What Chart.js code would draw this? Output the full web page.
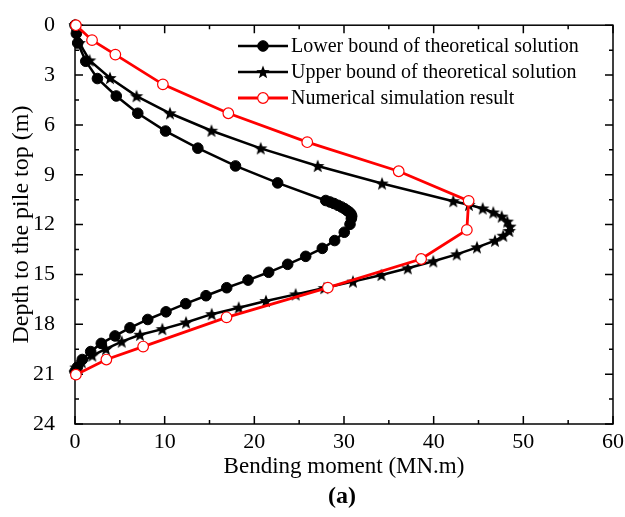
<!DOCTYPE html>
<html>
<head>
<meta charset="utf-8">
<script src="https://cdn.jsdelivr.net/npm/chart.js@4.4.0/dist/chart.umd.min.js"></script>
<style>
  html, body { margin:0; padding:0; background:#fff; }
  #wrap { width:625px; height:517px; position:relative; }
</style>
</head>
<body>
<div id="wrap"><canvas id="c"></canvas></div>
<script>
// ====== data: bending moment (MN.m) vs depth (m) ======
const lowerMoment = [0, 0.15, 0.3, 1.2, 2.5, 4.6, 7.0, 10.1, 13.7, 17.9, 22.6,
  27.96, 28.44, 28.88, 29.33, 29.72, 30.06, 30.34, 30.59, 30.78, 30.86, 30.82,
  30.67, 30.03, 28.96, 27.58, 25.73, 23.72, 21.6, 19.3, 16.92, 14.61, 12.35,
  10.15, 8.11, 6.13, 4.46, 2.93, 1.75, 0.81, 0.26, 0];
const lowerDepth = [0, 0.5, 1.07, 2.17, 3.21, 4.26, 5.30, 6.37, 7.40, 8.47, 9.49,
  10.55, 10.64, 10.73, 10.84, 10.94, 11.04, 11.15, 11.25, 11.36, 11.49, 11.64,
  11.98, 12.46, 12.96, 13.43, 13.91, 14.39, 14.87, 15.34, 15.80, 16.28, 16.76,
  17.25, 17.71, 18.21, 18.70, 19.15, 19.64, 20.12, 20.58, 20.84];

const upperMoment = [0, 0.48, 1.63, 3.9, 6.86, 10.59, 15.22, 20.71, 27.07, 34.24,
  42.19, 43.94, 45.47, 46.65, 47.59, 48.21, 48.51, 48.43, 47.76, 46.84, 44.83,
  42.57, 39.96, 37.11, 34.18, 31.0, 27.8, 24.61, 21.3, 18.26, 15.25, 12.38,
  9.74, 7.25, 5.21, 3.46, 1.93, 0.75, 0.1, 0];
const upperDepth = [0, 1.07, 2.12, 3.18, 4.27, 5.30, 6.35, 7.41, 8.47, 9.53,
  10.59, 10.81, 11.03, 11.27, 11.52, 11.82, 12.12, 12.38, 12.67, 12.97, 13.37,
  13.79, 14.21, 14.63, 15.03, 15.43, 15.82, 16.20, 16.60, 17.00, 17.39, 17.89,
  18.29, 18.63, 19.04, 19.48, 19.88, 20.28, 20.60, 20.90];

const numMoment = [0.1, 1.9, 4.5, 9.8, 17.1, 25.9, 36.1, 43.9, 43.7, 38.6, 28.2, 16.9, 7.6, 3.5, 0.1];
const numDepth  = [0, 0.90, 1.77, 3.56, 5.30, 7.04, 8.79, 10.57, 12.32, 14.07, 15.79, 17.58, 19.34, 20.12, 21.03];

const seriesNames = [
  "Lower bound of theoretical solution",
  "Upper bound of theoretical solution",
  "Numerical simulation result"
];
const xTicks = [0, 10, 20, 30, 40, 50, 60];
const xMinor = [5, 15, 25, 35, 45, 55];
const yTicks = [0, 3, 6, 9, 12, 15, 18, 21, 24];
const yMinor = [1.5, 4.5, 7.5, 10.5, 13.5, 16.5, 19.5, 22.5];
const xTitle = "Bending moment (MN.m)";
const yTitle = "Depth to the pile top (m)";
const panelLabel = "(a)";

// ====== helpers ======
const FONT = "'Liberation Serif', 'Times New Roman', serif";
const pts = (xs, ys) => xs.map((x, i) => ({ x, y: ys[i] }));

function starImg(r) {
  const c = document.createElement("canvas");
  const s = Math.ceil(r * 2 + 2);
  c.width = s; c.height = s;
  const g = c.getContext("2d");
  g.translate(s / 2, s / 2 + 0.5);
  g.beginPath();
  for (let i = 0; i < 10; i++) {
    const rad = i % 2 ? r * 0.42 : r;
    const a = -Math.PI / 2 + i * Math.PI / 5;
    g.lineTo(rad * Math.cos(a), rad * Math.sin(a));
  }
  g.closePath();
  g.fillStyle = "#000";
  g.fill();
  return c;
}
const STAR = starImg(7);

// frame + inward ticks on all four sides, titles and legend
const framePlugin = {
  id: "frame",
  beforeDatasetsDraw(chart) {
    const { ctx, chartArea: a, scales: { x, y } } = chart;
    ctx.save();
    ctx.strokeStyle = "#000";
    ctx.lineWidth = 1.5;
    ctx.strokeRect(a.left, a.top, a.right - a.left, a.bottom - a.top);
    const tickX = (vals, len) => {
      vals.forEach(v => {
        const px = x.getPixelForValue(v);
        ctx.beginPath();
        ctx.moveTo(px, a.bottom); ctx.lineTo(px, a.bottom - len);
        ctx.moveTo(px, a.top); ctx.lineTo(px, a.top + len);
        ctx.stroke();
      });
    };
    const tickY = (vals, len) => {
      vals.forEach(v => {
        const py = y.getPixelForValue(v);
        ctx.beginPath();
        ctx.moveTo(a.left, py); ctx.lineTo(a.left + len, py);
        ctx.moveTo(a.right, py); ctx.lineTo(a.right - len, py);
        ctx.stroke();
      });
    };
    tickX(xTicks, 8); tickX(xMinor, 4);
    tickY(yTicks, 8); tickY(yMinor, 4);
    ctx.restore();
  },
  afterDraw(chart) {
    const { ctx, chartArea: a } = chart;
    ctx.save();
    ctx.fillStyle = "#000";
    ctx.textAlign = "center";
    ctx.textBaseline = "middle";
    ctx.font = "23px " + FONT;
    ctx.fillText(xTitle, (a.left + a.right) / 2, 467);
    ctx.save();
    ctx.translate(22, (a.top + a.bottom) / 2);
    ctx.rotate(-Math.PI / 2);
    ctx.font = "24px " + FONT;
    ctx.fillText(yTitle, 0, 0);
    ctx.restore();
    ctx.font = "bold 24px " + FONT;
    ctx.fillText(panelLabel, (a.left + a.right) / 2 - 2, 497);

    // legend
    ctx.font = "20px " + FONT;
    ctx.textAlign = "left";
    chart.data.datasets.forEach((ds, i) => {
      const ly = 46 + i * 26;
      ctx.strokeStyle = ds.borderColor;
      ctx.lineWidth = ds.borderWidth;
      ctx.beginPath();
      ctx.moveTo(238, ly); ctx.lineTo(288, ly);
      ctx.stroke();
      if (ds.pointStyle === STAR) {
        ctx.drawImage(STAR, 263 - STAR.width / 2, ly - STAR.height / 2);
      } else {
        ctx.beginPath();
        ctx.arc(263, ly, ds.pointRadius, 0, Math.PI * 2);
        ctx.fillStyle = ds.pointBackgroundColor;
        ctx.fill();
        ctx.lineWidth = ds.pointBorderWidth;
        ctx.strokeStyle = ds.pointBorderColor;
        ctx.stroke();
      }
      ctx.fillStyle = "#000";
      ctx.fillText(ds.label, 291, ly + 1);
    });
    ctx.restore();
  }
};

new Chart(document.getElementById("c"), {
  type: "scatter",
  data: {
    datasets: [
      {
        label: seriesNames[0], data: pts(lowerMoment, lowerDepth),
        showLine: true, borderColor: "#000", borderWidth: 2.5,
        pointStyle: "circle", pointRadius: 5.3, pointBackgroundColor: "#000",
        pointBorderColor: "#000", pointBorderWidth: 1, order: 2, clip: false
      },
      {
        label: seriesNames[1], data: pts(upperMoment, upperDepth),
        showLine: true, borderColor: "#000", borderWidth: 2.5,
        pointStyle: STAR, pointRadius: 7, order: 1, clip: false
      },
      {
        label: seriesNames[2], data: pts(numMoment, numDepth),
        showLine: true, borderColor: "#ff0000", borderWidth: 2.8,
        pointStyle: "circle", pointRadius: 5.3, pointBackgroundColor: "#fff",
        pointBorderColor: "#ff0000", pointBorderWidth: 1.2, order: 0, clip: false
      }
    ]
  },
  options: {
    responsive: true, maintainAspectRatio: false, animation: false,
    layout: { padding: { left: 0, top: 22, right: 12, bottom: 0 } },
    plugins: { legend: { display: false }, tooltip: { enabled: false } },
    scales: {
      x: {
        type: "linear", min: 0, max: 60,
        afterBuildTicks: s => { s.ticks = xTicks.map(v => ({ value: v })); },
        afterFit: s => { s.height = 93; },
        grid: { display: false }, border: { display: false },
        ticks: { color: "#000", padding: -3, font: { family: FONT, size: 22 } }
      },
      y: {
        type: "linear", min: 0, max: 24, reverse: true,
        afterBuildTicks: s => { s.ticks = yTicks.map(v => ({ value: v })); },
        afterFit: s => { s.width = 75; },
        grid: { display: false }, border: { display: false },
        ticks: { color: "#000", padding: 12, font: { family: FONT, size: 22 } }
      }
    }
  },
  plugins: [framePlugin]
});
</script>
</body>
</html>
